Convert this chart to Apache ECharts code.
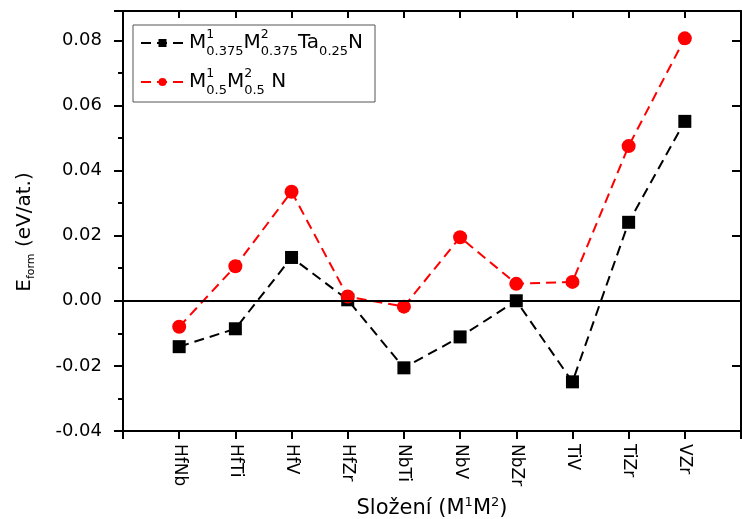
<!DOCTYPE html>
<html><head><meta charset="utf-8">
<script src="https://cdn.jsdelivr.net/npm/echarts@6/dist/echarts.min.js"></script>
<style>html,body{margin:0;padding:0;background:#fff}#c{width:742px;height:519px}</style>
</head><body><div id="c"></div>
<script>
const categories = ['HfNb','HfTi','HfV','HfZr','NbTi','NbV','NbZr','TiV','TiZr','VZr'];
const taSeries = [-0.0141,-0.0086,0.0133,0.0003,-0.0206,-0.0111,0.0000,-0.0249,0.0241,0.0551];
const binarySeries = [-0.0080,0.0106,0.0335,0.0013,-0.0018,0.0195,0.0052,0.0058,0.0475,0.0806];
const yTicks = [-0.04,-0.02,0.00,0.02,0.04,0.06,0.08];

const F = 'DejaVu Sans';
const n1 = 'M1 0.375 M2 0.375 Ta 0.25 N';
const n2 = 'M1 0.5 M2 0.5 N';
const legendText = {};
legendText[n1] = '{m|M}{sp|1}{sb|0.375}{m|M}{sp|2}{sb|0.375}{m|Ta}{sb|0.25}{m|N}';
legendText[n2] = '{m|M}{sp|1}{sb|0.5}{m|M}{sp|2}{sb|0.5}{m| N}';

const pairs = arr => arr.map((v, i) => [i + 1, v]);
const axisLineStyle = {color: '#000', width: 2};
const yMin = -0.04, yMax = 0.089;

const chart = echarts.init(document.getElementById('c'), null, {renderer: 'canvas'});
chart.setOption({
  animation: false,
  backgroundColor: '#fff',
  grid: {left: 123, right: 1, top: 11, bottom: 88, containLabel: false, outerBoundsMode: 'none'},
  legend: {
    orient: 'vertical', left: 133, top: 25, padding: [3, 12, 5, 7],
    itemGap: 9, itemWidth: 43, itemHeight: 10,
    borderColor: '#555', borderWidth: 1, backgroundColor: '#fff',
    data: [n1, n2], selectedMode: false, z: 10,
    formatter: name => legendText[name],
    textStyle: {
      fontFamily: F, color: '#000',
      rich: {
        m: {fontFamily: F, fontSize: 20, color: '#000', lineHeight: 30},
        sp: {fontFamily: F, fontSize: 12.5, color: '#000', width: 0, verticalAlign: 'top', lineHeight: 20},
        sb: {fontFamily: F, fontSize: 13, color: '#000', verticalAlign: 'bottom', lineHeight: 6}
      }
    }
  },
  xAxis: [
    {
      type: 'value', min: 0, max: 11, interval: 1, position: 'bottom',
      axisLine: {show: true, onZero: false, lineStyle: axisLineStyle},
      axisTick: {show: true, inside: false, length: 8, lineStyle: {color: '#000', width: 2}},
      axisLabel: {rotate: -90, margin: 13, fontFamily: F, fontSize: 17, color: '#000',
        formatter: v => categories[v - 1] || ''},
      splitLine: {show: false},
      name: '{a|Složení (M}{p|1}{a|M}{p|2}{a|)}',
      nameLocation: 'middle', nameGap: 65,
      nameTextStyle: {fontFamily: F, color: '#000', rich: {
        a: {fontFamily: F, fontSize: 21, color: '#000', lineHeight: 26},
        p: {fontFamily: F, fontSize: 13, color: '#000', verticalAlign: 'top', lineHeight: 14}
      }}
    },
    {
      type: 'value', min: 0, max: 11, interval: 1, position: 'top',
      axisLine: {show: true, onZero: false, lineStyle: axisLineStyle},
      axisTick: {show: true, inside: true, length: 7, lineStyle: {color: '#000', width: 2}},
      axisLabel: {show: false}, splitLine: {show: false}
    }
  ],
  yAxis: [
    {
      type: 'value', min: yMin, max: yMax, interval: 0.02, position: 'left',
      axisLine: {show: true, onZero: false, lineStyle: axisLineStyle},
      axisTick: {show: true, inside: false, length: 9, lineStyle: {color: '#000', width: 2}},
      axisLabel: {margin: 21, fontFamily: F, fontSize: 18, color: '#000',
        formatter: v => { const t = yTicks.find(t => Math.abs(t - v) < 1e-6); return t === undefined ? '' : t.toFixed(2); }},
      splitLine: {show: false},
      name: '{e|E}{s|form}{e| (eV/at.)}',
      nameLocation: 'middle', nameGap: 86, nameRotate: 90,
      nameTextStyle: {fontFamily: F, color: '#000', padding: [0, 22, 0, 0], rich: {
        e: {fontFamily: F, fontSize: 20, color: '#000', lineHeight: 24},
        s: {fontFamily: F, fontSize: 11, color: '#000', verticalAlign: 'bottom', lineHeight: 8}
      }}
    },
    {
      type: 'value', min: yMin, max: yMax, interval: 0.02, position: 'right',
      axisLine: {show: true, onZero: false, lineStyle: axisLineStyle},
      axisTick: {show: true, inside: true, length: 9, lineStyle: {color: '#000', width: 2}},
      axisLabel: {show: false}, splitLine: {show: false}
    },
    {
      type: 'value', min: yMin, max: yMax, interval: 0.01, position: 'left',
      axisLine: {show: false},
      axisTick: {show: true, inside: false, length: 5, lineStyle: {color: '#000', width: 2}},
      axisLabel: {show: false}, splitLine: {show: false}
    },
    {
      type: 'value', min: yMin, max: yMax, interval: 0.01, position: 'right',
      axisLine: {show: false},
      axisTick: {show: true, inside: true, length: 5, lineStyle: {color: '#000', width: 2}},
      axisLabel: {show: false}, splitLine: {show: false}
    }
  ],
  series: [
    {
      name: n1, type: 'line', xAxisIndex: 0, yAxisIndex: 0, data: pairs(taSeries),
      symbol: 'rect', symbolSize: 13, z: 2,
      itemStyle: {color: '#000'},
      lineStyle: {color: '#000', width: 2, type: [10, 6]},
      markLine: {silent: true, symbol: 'none', label: {show: false},
        lineStyle: {color: '#000', width: 2, type: 'solid'}, data: [{yAxis: 0}]}
    },
    {
      name: n2, type: 'line', xAxisIndex: 0, yAxisIndex: 0, data: pairs(binarySeries),
      symbol: 'circle', symbolSize: 14, z: 3,
      itemStyle: {color: '#ff0000'},
      lineStyle: {color: '#ff0000', width: 2, type: [10, 6]}
    }
  ]
});
</script></body></html>
